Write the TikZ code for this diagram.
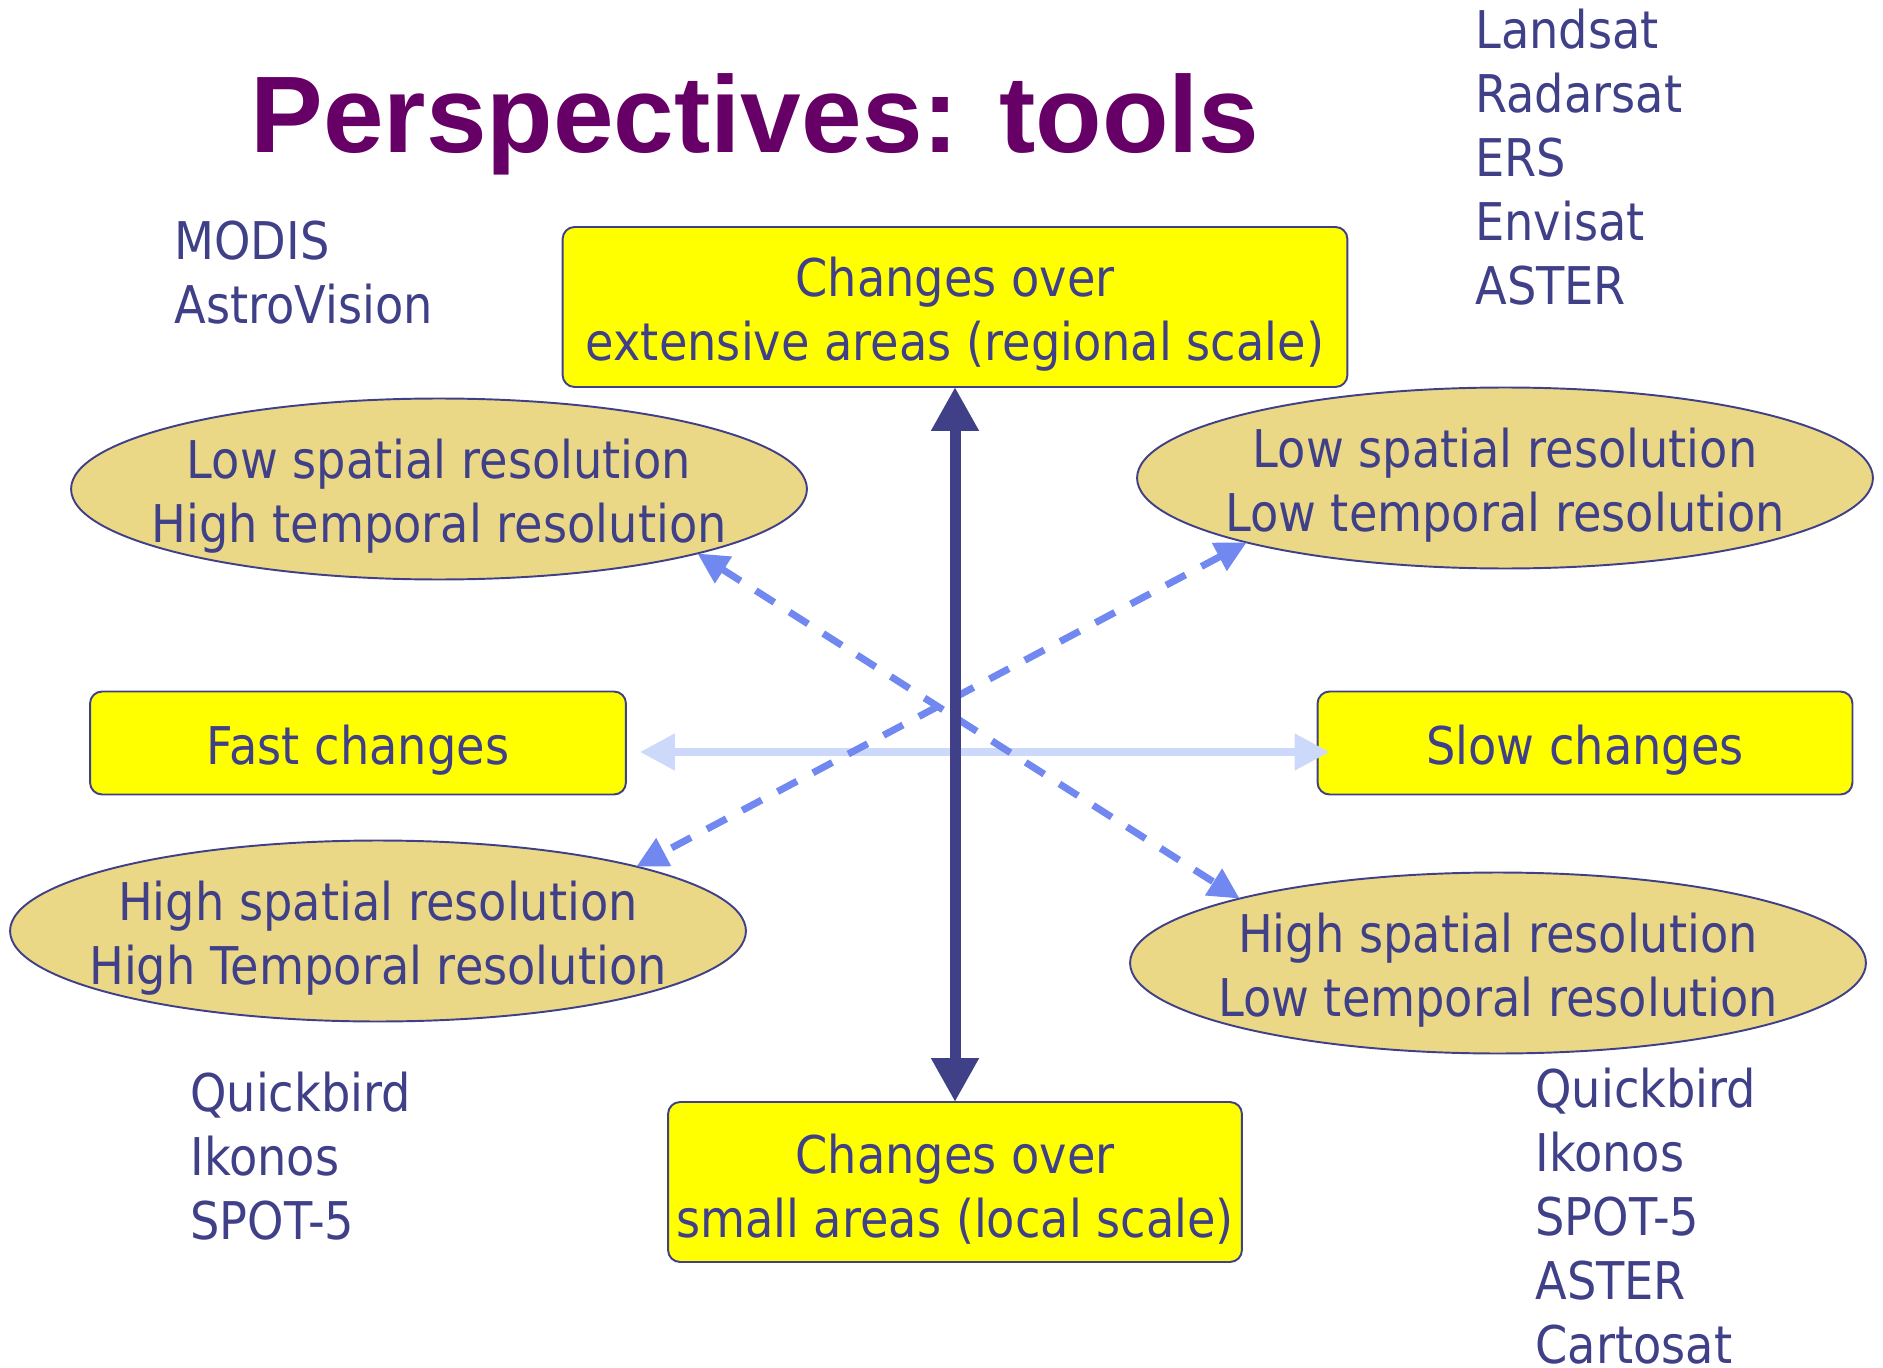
\documentclass[tikz,border=0pt]{standalone}
\usepackage{fontspec}
\setmainfont{DejaVu Sans}[FakeStretch=0.89]
\newfontfamily\titlefont{Liberation Sans}
\usepackage{xcolor}
\usepackage{tikz}
\usetikzlibrary{shapes.geometric, arrows.meta}
\definecolor{textblue}{RGB}{64,64,136}
\definecolor{titlepurple}{RGB}{102,0,102}
\definecolor{sand}{RGB}{235,216,135}
\definecolor{dashblue}{RGB}{112,136,240}
\definecolor{paleblue}{RGB}{204,217,250}
\definecolor{boxyellow}{RGB}{255,255,0}
\tikzstyle{inside} = [align=center, text=textblue, inner sep=0pt, yshift=-0.14cm]
\tikzstyle{scalebox} = [rectangle, rounded corners=0.24cm, draw=textblue, line width=1.1pt, fill=boxyellow, inner sep=0pt, outer sep=0pt]
\tikzstyle{resolution} = [ellipse, draw=textblue, line width=1.1pt, fill=sand, inner sep=0pt, outer sep=0pt, minimum width=14.72cm, minimum height=3.62cm]
\tikzstyle{satlist} = [anchor=west, align=left, text=textblue, inner sep=0pt]
\tikzstyle{scalearrow} = [line width=0.22cm, draw=textblue, {Triangle[width=0.9cm,length=0.88cm]}-{Triangle[width=0.9cm,length=0.88cm]}]
\tikzstyle{speedarrow} = [line width=0.16cm, draw=paleblue, {Triangle[width=0.7cm,length=0.7cm]}-{Triangle[width=0.7cm,length=0.7cm]}]
\tikzstyle{resarrow} = [line width=0.14cm, draw=dashblue, dash pattern=on 0.44cm off 0.36cm, {Triangle[width=0.6cm,length=0.62cm]}-{Triangle[width=0.6cm,length=0.62cm]}]

\begin{document}
\begin{tikzpicture}[x=0.02cm, y=-0.02cm, font=\fontsize{29.6}{36.4}\selectfont]
	\useasboundingbox (0,0) rectangle (1883,1368);
	
	\node (title) [anchor=base, text=titlepurple, font=\titlefont\bfseries\fontsize{62}{70}\selectfont] at (755,153) {Perspectives: tools};
	
	% yellow boxes: spatial scale and speed of change
	\node (regional) [scalebox, minimum width=15.7cm, minimum height=3.2cm, label={[inside]center:{Changes over\\extensive areas (regional scale)}}] at (955,307) {};
	\node (local) [scalebox, minimum width=11.48cm, minimum height=3.2cm, label={[inside]center:{Changes over\\small areas (local scale)}}] at (955,1182) {};
	\node (fast) [scalebox, minimum width=10.72cm, minimum height=2.06cm, label={[inside]center:Fast changes}] at (358,743) {};
	\node (slow) [scalebox, minimum width=10.7cm, minimum height=2.06cm, label={[inside]center:Slow changes}] at (1585,743) {};
	
	% resolution ellipses
	\node (coarsefast) [resolution, label={[inside]center:{Low spatial resolution\\High temporal resolution}}] at (439,489) {};
	\node (coarseslow) [resolution, label={[inside]center:{Low spatial resolution\\Low temporal resolution}}] at (1505,478) {};
	\node (finefast) [resolution, label={[inside]center:{High spatial resolution\\High Temporal resolution}}] at (378,931) {};
	\node (fineslow) [resolution, label={[inside]center:{High spatial resolution\\Low temporal resolution}}] at (1498,963) {};
	
	% sensors
	\node (geosat) [satlist] at (174,273) {MODIS\\AstroVision};
	\node (medsat) [satlist] at (1475,157) {Landsat\\Radarsat\\ERS\\Envisat\\ASTER};
	\node (hrsatleft) [satlist] at (190,1156) {Quickbird\\Ikonos\\SPOT-5};
	\node (hrsatright) [satlist] at (1535,1216) {Quickbird\\Ikonos\\SPOT-5\\ASTER\\Cartosat};
	
	\draw [speedarrow, shorten <=0.28cm, shorten >=-0.24cm] ([yshift=-0.18cm]fast.east) -- ([yshift=-0.18cm]slow.west);
	\draw [resarrow] (coarsefast.-14) -- (fineslow.166);
	\draw [resarrow] (coarseslow.-166) -- (finefast.14);
	\draw [scalearrow] (regional.south) -- (local.north);
	
\end{tikzpicture}
\end{document}
